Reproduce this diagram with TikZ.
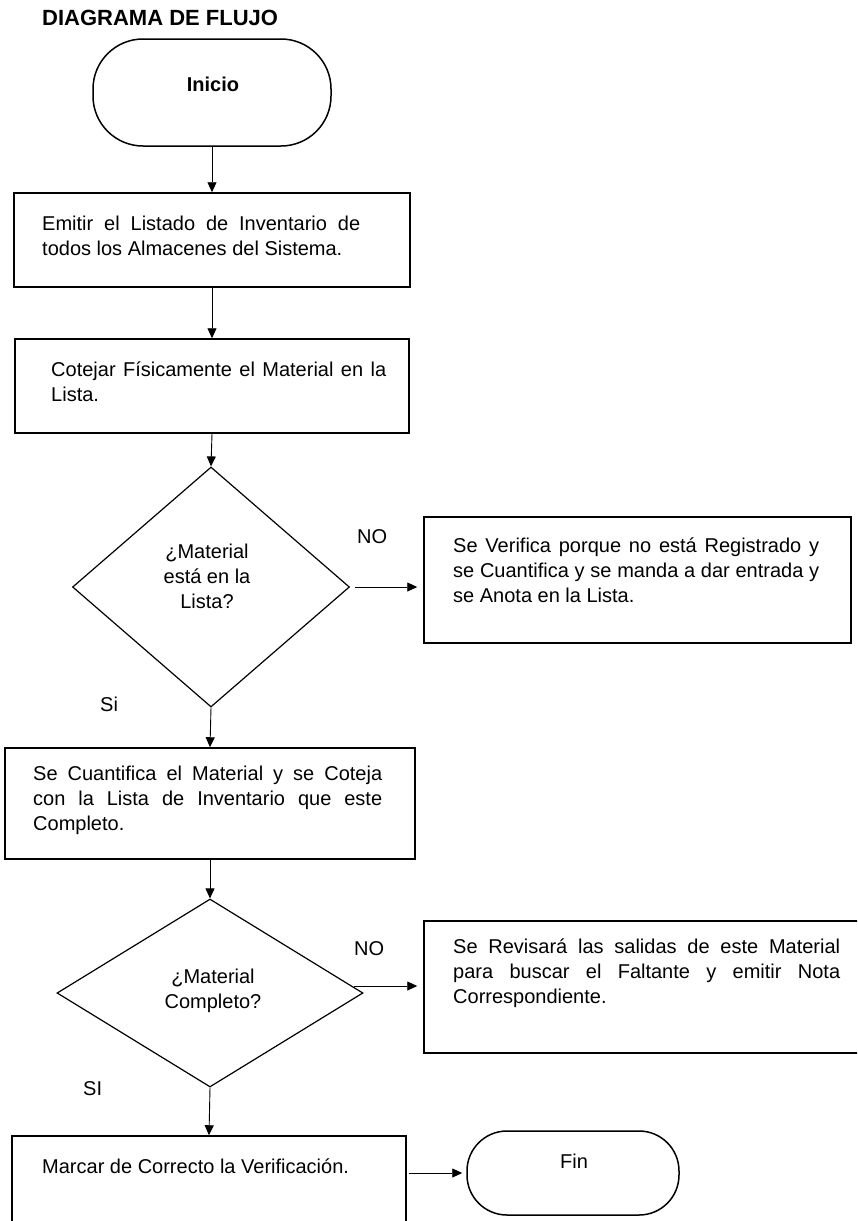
\documentclass[tikz,border=0pt]{standalone}
\usepackage{fontspec}
\setmainfont{Liberation Sans}
\usetikzlibrary{shapes.geometric,arrows.meta}
\hyphenpenalty=10000
\exhyphenpenalty=10000
\emergencystretch=3em
\newcommand{\firststrut}{\rule{0pt}{18pt}}
\begin{document}
\begin{tikzpicture}[x=1pt,y=-1pt,
  box/.style={draw, line width=1.5pt, rectangle, inner sep=0pt},
  term/.style={draw, line width=1.5pt, rectangle, rounded corners=50pt, inner sep=0pt},
  dec/.style={draw, line width=1.2pt, diamond, inner sep=0pt},
  txt/.style={inner sep=0pt, anchor=north west, align=justify, font=\fontsize{20}{25}\selectfont},
  ctxt/.style={inner sep=0pt, anchor=north, align=center, font=\fontsize{20}{25}\selectfont},
  lbl/.style={inner sep=0pt, anchor=base west, font=\fontsize{20}{25}\selectfont},
  arr/.style={-{Triangle[length=10pt,width=9pt]}, line width=0.9pt},
]
\useasboundingbox (0,0) rectangle (857,1221);
\clip (0,0) rectangle (857,1221);

\node[inner sep=0pt, anchor=base west, font=\fontsize{22}{26}\selectfont\bfseries] (title) at (42,25) {DIAGRAMA DE FLUJO};

% shapes
\node[term, minimum width=238pt, minimum height=107pt] (ini) at (212,92.5) {};
\node[box, minimum width=396pt, minimum height=94pt] (b1) at (212,240) {};
\node[box, minimum width=394pt, minimum height=94pt] (b2) at (212,386) {};
\node[dec, minimum width=277pt, minimum height=240pt] (d1) at (211,587) {};
\node[box, minimum width=427pt, minimum height=126pt] (b3) at (637.5,580) {};
\node[box, minimum width=410pt, minimum height=111pt] (b4) at (210,803.5) {};
\node[dec, minimum width=306pt, minimum height=188pt] (d2) at (210,993) {};
\node[box, minimum width=438pt, minimum height=132pt] (b5) at (643,987) {};
\node[box, minimum width=394pt, minimum height=94pt] (b6) at (209,1183) {};
\node[term, rounded corners=40pt, minimum width=212pt, minimum height=84pt] (fin) at (573,1173) {};

% texts
\node[inner sep=0pt, anchor=base, font=\fontsize{20}{25}\selectfont\bfseries] (tini) at (213,91) {Inicio};
\node[txt, text width=318pt] (t1) at (42,212) {\firststrut Emitir el Listado de Inventario de\break todos los Almacenes del Sistema.};
\node[txt, text width=335pt] (t2) at (51,358) {\firststrut Cotejar Físicamente el Material en la\break Lista.};
\node[ctxt] (td1) at (207,540) {\firststrut ¿Material\\está en la\\Lista?};
\node[txt, text width=366pt] (t3) at (453,534) {\firststrut Se Verifica porque no está Registrado y\break se Cuantifica y se manda a dar entrada y\break se Anota en la Lista.};
\node[txt, text width=349pt] (t4) at (33,762) {\firststrut Se Cuantifica el Material y se Coteja\break con la Lista de Inventario que este\break Completo.};
\node[ctxt] (td2) at (213,965) {\firststrut ¿Material\\Completo?};
\node[txt, text width=387pt] (t5) at (453,935) {\firststrut Se Revisará las salidas de este Material\break para buscar el Faltante y emitir Nota\break Correspondiente.};
\node[lbl] (t6) at (42,1173) {Marcar de Correcto la Verificación.};
\node[inner sep=0pt, anchor=base, font=\fontsize{20}{25}\selectfont] (tfin) at (574,1168) {Fin};

% labels
\node[lbl] (no1) at (357,543) {NO};
\node[lbl] (si1) at (100,711) {Si};
\node[lbl] (no2) at (354,955) {NO};
\node[lbl] (si2) at (83,1095) {SI};

% connectors
\coordinate (n2s) at (354,986);
\draw[arr] (ini.south) -- (b1.north);
\draw[arr] (b1.south) -- (b2.north);
\draw[arr] (b2.south) -- (d1.north);
\draw[arr, shorten <=5pt, shorten >=6pt] (d1.east) -- (d1.east -| b3.west);
\draw[arr] (d1.south) -- (b4.north);
\draw[arr] (b4.south) -- (d2.north);
\draw[arr, shorten >=6pt] (n2s) -- (n2s -| b5.west);
\draw[arr] (d2.south) -- (b6.north);
\draw[arr, shorten <=2pt, shorten >=4pt] (b6.east |- fin.west) -- (fin.west);
\end{tikzpicture}
\end{document}
